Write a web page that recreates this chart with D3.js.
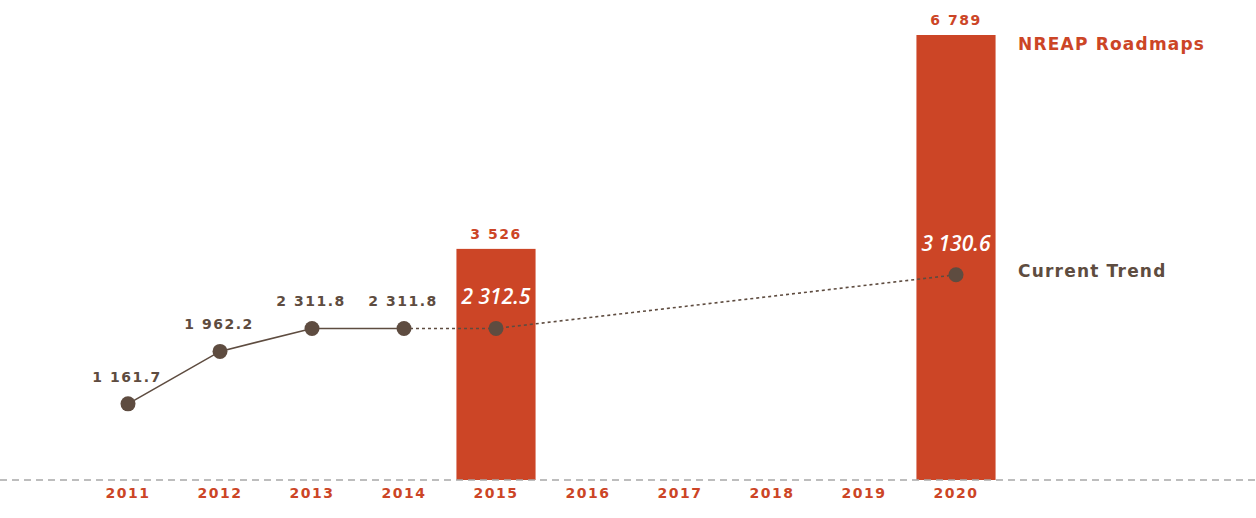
<!DOCTYPE html>
<html><head><meta charset="utf-8">
<script src="https://cdn.jsdelivr.net/npm/d3@7"></script>
<style>body{margin:0;background:#fff}svg{display:block}text{font-family:"DejaVu Sans",sans-serif}</style>
</head><body><svg id="c" width="1256" height="518"></svg>
<script>
const years = ["2011","2012","2013","2014","2015","2016","2017","2018","2019","2020"];
const trendYears = ["2011","2012","2013","2014","2015","2020"];
const trendValues = [1161.7, 1962.2, 2311.8, 2311.8, 2312.5, 3130.6];
const trendLabels = ["1 161.7","1 962.2","2 311.8","2 311.8","2 312.5","3 130.6"];
const barYears = ["2015","2020"];
const barValues = [3526, 6789];
const barLabels = ["3 526","6 789"];
const seriesNames = ["NREAP Roadmaps","Current Trend"];

const red = "#cc4526", brown = "#5e4c40";
const svg = d3.select("#c");
const x = d3.scaleBand().domain(years).range([82,1002]).paddingInner(0.14).paddingOuter(0.07);
const y = d3.scaleLinear().domain([0,6789]).range([480,35]);
const cx = d => x(d)+x.bandwidth()/2;

// bars
svg.selectAll("rect.bar").data(barYears).join("rect")
  .attr("x", d=>x(d)).attr("width", x.bandwidth())
  .attr("y", (d,i)=>y(barValues[i])).attr("height",(d,i)=>y(0)-y(barValues[i]))
  .attr("fill", red);
svg.selectAll("text.bl").data(barYears).join("text")
  .attr("x", d=>cx(d)).attr("y",(d,i)=>y(barValues[i])-10)
  .attr("text-anchor","middle").attr("font-weight","bold").attr("font-size",14)
  .attr("letter-spacing",1.5).attr("fill",red).text((d,i)=>barLabels[i]);

// baseline
svg.append("line").attr("x1",0).attr("x2",1256).attr("y1",y(0)).attr("y2",y(0))
  .attr("stroke","#a8a8a8").attr("stroke-width",1.5).attr("stroke-dasharray","7,5");

// axis labels
const axis = d3.axisBottom(x).tickSize(0).tickPadding(8);
const g = svg.append("g").attr("transform",`translate(0,${y(0)})`).call(axis);
g.select(".domain").remove();
g.selectAll("text").attr("fill",red).attr("font-weight","bold").attr("font-size",14)
  .attr("letter-spacing",1.5).style("font-family","'DejaVu Sans',sans-serif");

// line
const pts = trendYears.map((d,i)=>[cx(d), y(trendValues[i])]);
const line = d3.line();
svg.append("path").attr("d", line(pts.slice(0,4))).attr("fill","none")
  .attr("stroke",brown).attr("stroke-width",1.6);
svg.append("path").attr("d", line(pts.slice(3))).attr("fill","none")
  .attr("stroke",brown).attr("stroke-width",1.6).attr("stroke-dasharray","3,3");
svg.selectAll("circle.pt").data(pts).join("circle")
  .attr("cx",d=>d[0]).attr("cy",d=>d[1]).attr("r",7.5).attr("fill",brown);

const inBar = d => barYears.includes(d);
svg.selectAll("text.pl").data(trendYears).join("text")
  .attr("x",(d,i)=>pts[i][0]+(inBar(d)?0:-1))
  .attr("y",(d,i)=>pts[i][1]-(inBar(d)?24:22))
  .attr("text-anchor","middle")
  .attr("font-weight",d=>inBar(d)?600:"bold")
  .attr("font-size",d=>inBar(d)?21:14)
  .attr("letter-spacing",d=>inBar(d)?0:1.5)
  .attr("font-style",d=>inBar(d)?"italic":"normal")
  .style("font-family",d=>inBar(d)?"'Open Sans',sans-serif":"'DejaVu Sans',sans-serif")
  .attr("fill",d=>inBar(d)?"#fff":brown)
  .text((d,i)=>trendLabels[i]);

// series labels
svg.append("text").attr("x",1018).attr("y",50).attr("font-weight","bold").attr("font-size",17)
  .attr("letter-spacing",1.2).attr("fill",red).text(seriesNames[0]);
svg.append("text").attr("x",1018).attr("y",277).attr("font-weight","bold").attr("font-size",17)
  .attr("letter-spacing",1.2).attr("fill",brown).text(seriesNames[1]);
</script></body></html>
